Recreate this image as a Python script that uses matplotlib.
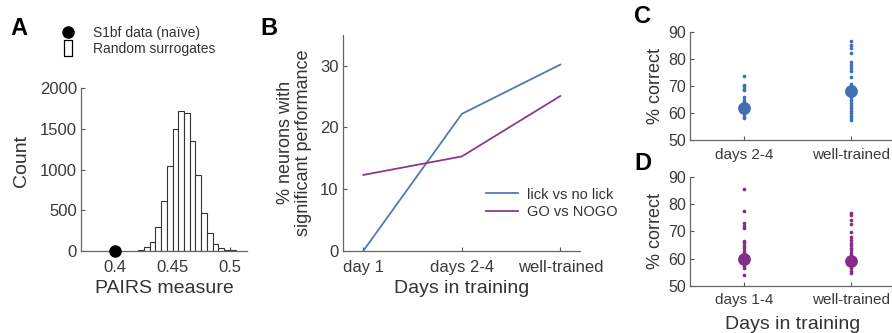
import numpy as np
import matplotlib
matplotlib.use('Agg')
import matplotlib.pyplot as plt
from matplotlib.lines import Line2D

plt.rcParams['font.family'] = ['Liberation Sans', 'DejaVu Sans']
plt.rcParams['text.color'] = '#333333'
plt.rcParams['axes.labelcolor'] = '#333333'
plt.rcParams['xtick.color'] = '#555555'
plt.rcParams['ytick.color'] = '#555555'
plt.rcParams['xtick.labelcolor'] = '#3a3a3a'
plt.rcParams['ytick.labelcolor'] = '#3a3a3a'

# --- Panel A: surrogate histogram ---
bin_left = [0.420, 0.425, 0.430, 0.435, 0.440, 0.445, 0.450, 0.455,
            0.460, 0.465, 0.470, 0.475, 0.480, 0.485, 0.490, 0.495, 0.500]
counts = [8, 50, 111, 296, 612, 1043, 1495, 1720,
          1692, 1355, 932, 468, 222, 82, 30, 10, 5]
bin_width = 0.005
s1bf_value = 0.4

# --- Panel B: % neurons with significant performance ---
stages_b = ['day 1', 'days 2-4', 'well-trained']
lick_pct = [0.0, 22.2, 30.2]
gonogo_pct = [12.3, 15.3, 25.1]

# --- Panel C: % correct (lick vs no lick) ---
labels_c = ['days 2-4', 'well-trained']
c_early = [73.8, 70.6, 70.0, 69.1, 68.5, 65.8, 65.0, 64.2, 63.3, 60.5, 59.6, 58.6, 58.1]
c_late = [86.9, 85.3, 84.0, 82.4, 78.8, 77.7, 76.6, 75.8, 73.3, 70.8, 69.8,
          65.8, 64.9, 63.6, 62.6, 61.8, 60.8, 59.9, 58.9, 58.1, 57.4]
c_means = [62.0, 68.3]

# --- Panel D: % correct (GO vs NOGO) ---
labels_d = ['days 1-4', 'well-trained']
d_early = [85.6, 77.6, 72.9, 72.1, 71.1, 66.5, 65.6, 64.6, 63.8, 62.9, 62.0, 61.0,
           58.2, 57.3, 56.5, 54.0]
d_late = [76.9, 75.9, 74.3, 72.6, 69.9, 67.8, 66.8, 65.8, 64.9, 64.0, 63.1, 62.2,
          61.3, 57.5, 56.6, 55.6, 54.8]
d_means = [59.8, 59.3]

BLUE = '#5079b9'
PURPLE = '#893a8e'
DOT_BLUE = '#3f6fb5'
DOT_PURPLE = '#852c88'
SPINE = '#666666'

fig = plt.figure(figsize=(8.92, 3.33), dpi=100)


def style_axes(ax, xsize, ysize, xpad):
    for side in ['top', 'right']:
        ax.spines[side].set_visible(False)
    for side in ['left', 'bottom']:
        ax.spines[side].set_color(SPINE)
        ax.spines[side].set_linewidth(0.9)
    ax.tick_params(direction='in', length=3, width=0.8)
    ax.tick_params(axis='x', labelsize=xsize, pad=xpad)
    ax.tick_params(axis='y', labelsize=ysize, pad=3)


# Panel A
axA = fig.add_axes([0.0908, 0.2471, 0.1861, 0.4877])
axA.bar(bin_left, counts, width=bin_width, align='edge', facecolor='white',
        edgecolor='#333333', linewidth=0.8, zorder=2)
axA.plot([s1bf_value], [0], 'o', color='black', markersize=8, clip_on=False, zorder=4)
axA.set_xlim(0.37, 0.515)
axA.set_ylim(0, 2000)
axA.set_xticks([0.4, 0.45, 0.5])
axA.set_xticklabels(['0.4', '0.45', '0.5'])
axA.set_yticks([0, 500, 1000, 1500, 2000])
axA.set_xlabel('PAIRS measure', fontsize=14, labelpad=3)
axA.set_ylabel('Count', fontsize=14, labelpad=5)
axA.yaxis.set_label_coords(-0.31, 0.55)
style_axes(axA, 12, 12, 7)

rect_marker = [(-0.5, -1.0), (0.5, -1.0), (0.5, 1.0), (-0.5, 1.0), (-0.5, -1.0)]
handles_a = [
    Line2D([], [], linestyle='none', marker='o', color='black', markersize=8),
    Line2D([], [], linestyle='none', marker=rect_marker, markerfacecolor='white',
           markeredgecolor='black', markeredgewidth=0.9, markersize=11),
]
fig.legend(handles_a, ['S1bf data (na\u00efve)', 'Random surrogates'],
           loc='upper left', bbox_to_anchor=(0.062, 0.94), frameon=False,
           fontsize=10, handlelength=1.0, handletextpad=1.3, labelspacing=0.2,
           borderaxespad=0)

# Panel B
axB = fig.add_axes([0.3842, 0.2471, 0.2660, 0.6477])
xb = np.arange(1, len(stages_b) + 1)
axB.plot(xb, lick_pct, color=BLUE, linewidth=1.3, label='lick vs no lick')
axB.plot(xb, gonogo_pct, color=PURPLE, linewidth=1.3, label='GO vs NOGO')
axB.set_xlim(0.79, 3.2)
axB.set_ylim(0, 35)
axB.set_xticks(xb)
axB.set_xticklabels(stages_b)
axB.set_yticks([0, 10, 20, 30])
axB.set_xlabel('Days in training', fontsize=14, labelpad=3)
axB.set_ylabel('% neurons with\nsignificant performance', fontsize=13, labelpad=6,
               linespacing=1.05)
style_axes(axB, 12, 12, 7)
axB.legend(loc='upper left', bbox_to_anchor=(0.58, 0.32), frameon=False,
           fontsize=10.5, handlelength=2.2, handletextpad=0.6, labelspacing=0.25,
           borderaxespad=0)


def dot_panel(ax, early, late, means, color, labels, xpad):
    for i, vals in enumerate([early, late]):
        ax.scatter(np.full(len(vals), i + 1), vals, s=7, color=color,
                   linewidths=0, zorder=2)
    ax.scatter([1, 2], means, s=85, color=color, linewidths=0, zorder=3)
    ax.set_xlim(0.5, 2.5)
    ax.set_ylim(50, 90)
    ax.set_xticks([1, 2])
    ax.set_xticklabels(labels)
    ax.set_yticks([50, 60, 70, 80, 90])
    ax.set_ylabel('% correct', fontsize=13, labelpad=3)
    style_axes(ax, 11, 11.5, xpad)


axC = fig.add_axes([0.7735, 0.5796, 0.2410, 0.3234])
dot_panel(axC, c_early, c_late, c_means, DOT_BLUE, labels_c, 6)

axD = fig.add_axes([0.7735, 0.1411, 0.2410, 0.3282])
dot_panel(axD, d_early, d_late, d_means, DOT_PURPLE, labels_d, 5)
fig.text(0.889, 0.0, 'Days in training', fontsize=14, ha='center', va='bottom')

# panel letters
for letter, x, y in [('A', 0.012, 0.88), ('B', 0.292, 0.88),
                     ('C', 0.711, 0.916), ('D', 0.711, 0.475)]:
    fig.text(x, y, letter, fontsize=17, fontweight='bold', color='black',
             ha='left', va='bottom')

fig.savefig('out.png', dpi=100)
